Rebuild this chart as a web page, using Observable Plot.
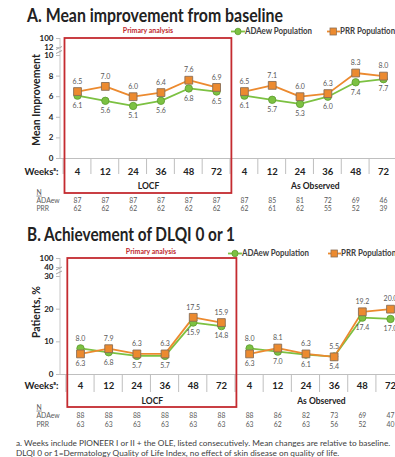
<!DOCTYPE html>
<html><head><meta charset="utf-8">
<script src="https://cdn.jsdelivr.net/npm/d3@7"></script>
<script src="https://cdn.jsdelivr.net/npm/@observablehq/plot@0.6"></script>
<style>
body{margin:0;background:#fff;font-family:Lato,"Open Sans",sans-serif;}
#wrap{position:relative;width:395px;height:457px;overflow:hidden;}
.abs{position:absolute;white-space:nowrap;line-height:1;}
.title{font-weight:bold;font-size:18px;color:#222;}
.prim{font-weight:bold;font-size:7px;color:#C0282D;transform:translate(-50%,-50%);}
.leg{font-weight:bold;font-size:8.5px;color:#404040;display:flex;align-items:center;}
.ytitle{font-weight:bold;font-size:10.5px;color:#222;transform:translate(-50%,-50%) rotate(-90deg);}
.foot{font-size:7.6px;color:#404040;line-height:10px;}
svg.plot{position:absolute;left:0;}
</style></head><body><div id="wrap"></div>
<script>
// ---------- data ----------
const weeks = ["4","12","24","36","48","72"];
const analyses = ["LOCF","As Observed"];
const series = ["ADAew Population","PRR Population"];
// Panel A: mean improvement from baseline
const aLocfADAew = [6.1,5.6,5.1,5.6,6.8,6.5];
const aLocfPRR   = [6.5,7.0,6.0,6.4,7.6,6.9];
const aObsADAew  = [6.1,5.7,5.3,6.0,7.4,7.7];
const aObsPRR    = [6.5,7.1,6.0,6.3,8.3,8.0];
const aN_ADAew = [87,87,87,87,87,87, 87,85,81,72,69,46];
const aN_PRR   = [62,62,62,62,62,62, 62,61,62,55,52,39];
const aYTicks = [0,2,4,6,8,10,12,100];
// Panel B: achievement of DLQI 0 or 1 (%)
const bLocfADAew = [8.0,6.8,5.7,5.7,15.9,14.8];
const bLocfPRR   = [6.3,7.9,6.3,6.3,17.5,15.9];
const bObsADAew  = [8.0,7.0,6.1,5.5,17.4,17.0];
const bObsPRR    = [6.3,8.1,6.3,5.4,19.2,20.0];
const bN_ADAew = [88,88,88,88,88,88, 88,86,82,73,69,47];
const bN_PRR   = [63,63,63,63,63,63, 63,62,63,56,52,40];
const bYTicks = [0,10,20,30,40,100];

const GREEN = "#7CC142", GREEN_D = "#5C9A2E", ORANGE = "#EC8A2F", ORANGE_D = "#8A6E55", RED = "#C42B30", GRAY = "#BFBFBF";

function buildRows(locfA, locfP, obsA, obsP) {
  const rows = [];
  [[locfA, locfP], [obsA, obsP]].forEach(([sa, sp], g) => {
    weeks.forEach((w, k) => {
      const i = g * 6 + k;
      rows.push({i, g: analyses[g], series: series[0], value: sa[k], above: sa[k] > sp[k]});
      rows.push({i, g: analyses[g], series: series[1], value: sp[k], above: sp[k] > sa[k]});
    });
  });
  return rows;
}
function buildTable(nA, nP) {
  return analyses.flatMap((a, g) => weeks.map((w, k) => ({i: g * 6 + k, week: w, nA: nA[g * 6 + k], nP: nP[g * 6 + k]})));
}

function panel(cfg) {
  const {rows, table, yDomain, yRange, yTicks, xRange, breakBetween, height, off} = cfg;
  const zero = () => 0;
  const box = (index, scales) => {
    const x1 = scales.x(-0.45), x2 = scales.x(5.55);
    const y1 = scales.y(yDomain[yDomain.length - 1]), y2 = scales.y(0) + off.box;
    return d3.create("svg:rect").attr("x", x1).attr("y", y1).attr("width", x2 - x1).attr("height", y2 - y1)
      .attr("fill", "none").attr("stroke", RED).attr("stroke-width", 1.8).node();
  };
  const seps = (index, scales) => {
    const g = d3.create("svg:g").attr("stroke", GRAY).attr("stroke-width", 1);
    const y0 = scales.y(0);
    for (let b = -0.5; b <= 10.5; b += 1) {
      g.append("line").attr("x1", scales.x(b)).attr("x2", scales.x(b)).attr("y1", y0).attr("y2", y0 + off.sep);
    }
    return g.node();
  };
  const axisLine = (index, scales) => {
    const g = d3.create("svg:g").attr("stroke", GRAY).attr("fill", "none").attr("stroke-width", 0.9);
    const x = 60;
    g.append("line").attr("x1", x).attr("x2", x).attr("y1", scales.y(0)).attr("y2", scales.y(yDomain[yDomain.length - 1]));
    const yb = (scales.y(breakBetween[0]) + scales.y(breakBetween[1])) / 2;
    g.append("path").attr("d", `M${x-4},${yb-1.5} L${x+2},${yb-4.5} M${x-4},${yb+2.5} L${x+2},${yb-0.5}`).attr("stroke", "#999");
    return g.node();
  };
  const rA = rows.filter(d => d.series === series[0]);
  const rP = rows.filter(d => d.series === series[1]);
  const lbl = {fontSize: 7, fill: "#595959", text: d => d.value.toFixed(1)};
  const tbl = {fontSize: 6.8, fill: "#595959"};
  const svg = Plot.plot({
    width: 395, height,
    marginLeft: 60, marginRight: 0, marginTop: 0, marginBottom: 0,
    style: {fontFamily: "Lato, sans-serif", background: "transparent", overflow: "visible"},
    x: {type: "linear", domain: [-0.5, 11.5], range: xRange, axis: null},
    y: {type: "linear", domain: yDomain, range: yRange, axis: null},
    marks: [
      axisLine,
      Plot.axisY({ticks: yTicks, tickSize: 4, tickPadding: 3, fontSize: 8, fontWeight: "bold", stroke: GRAY, fill: "#222", label: null, tickFormat: d => String(d)}),
      Plot.ruleY([0], {stroke: GRAY, strokeWidth: 1}),
      seps,
      Plot.line(rA, {x: "i", y: "value", z: "g", stroke: GREEN, strokeWidth: 1.8}),
      Plot.line(rP, {x: "i", y: "value", z: "g", stroke: ORANGE, strokeWidth: 1.8}),
      Plot.dot(rA, {x: "i", y: "value", r: 3.7, fill: GREEN, stroke: GREEN_D, strokeWidth: 0.8}),
      Plot.dot(rP, {x: "i", y: "value", symbol: "square", r: 4.4, fill: ORANGE, stroke: ORANGE_D, strokeWidth: 0.9}),
      Plot.text(rows.filter(d => d.above), {x: "i", y: "value", dy: -10, ...lbl}),
      Plot.text(rows.filter(d => !d.above), {x: "i", y: "value", dy: 10, ...lbl}),
      Plot.text(table, {x: "i", y: zero, text: "week", dy: off.week, fontSize: 9.5, fontWeight: "bold", fill: "#222"}),
      Plot.text(analyses, {x: (d, j) => j * 6 + 2.55, y: zero, text: d => d, dy: off.group, fontSize: 8.5, fontWeight: "bold", fill: "#222"}),
      Plot.text(table, {x: "i", y: zero, text: "nA", dy: off.nA, ...tbl}),
      Plot.text(table, {x: "i", y: zero, text: "nP", dy: off.nP, ...tbl}),
      Plot.text(["Weeksᵃ:"], {frameAnchor: "left", y: zero, dx: -2, dy: off.week, textAnchor: "end", fontSize: 9.5, fontWeight: "bold", fill: "#222"}),
      Plot.text(["N"], {frameAnchor: "left", y: zero, dx: -24, dy: off.nHead, textAnchor: "start", ...tbl}),
      Plot.text(["ADAew"], {frameAnchor: "left", y: zero, dx: -24, dy: off.nA, textAnchor: "start", ...tbl}),
      Plot.text(["PRR"], {frameAnchor: "left", y: zero, dx: -24, dy: off.nP, textAnchor: "start", ...tbl}),
      box
    ]
  });
  d3.select(svg).selectAll("text").filter(function() { return this.textContent === "N"; }).attr("text-decoration", "underline");
  svg.classList.add("plot");
  return svg;
}

const wrap = document.getElementById("wrap");
function addDiv(cls, html, style) {
  const d = document.createElement("div");
  d.className = "abs " + cls; d.innerHTML = html; d.setAttribute("style", style);
  wrap.appendChild(d); return d;
}
function fitX(el, target, ratio) {
  const r = ratio || target / el.getBoundingClientRect().width;
  el.style.transformOrigin = "left center";
  el.style.transform = (el.style.transform || "") + ` scaleX(${r})`;
  return r;
}
const swG = `<svg width="15" height="9"><line x1="0" y1="4.5" x2="15" y2="4.5" stroke="${GREEN}" stroke-width="1.8"/><circle cx="7.5" cy="4.5" r="3.3" fill="${GREEN}" stroke="${GREEN_D}" stroke-width="0.8"/></svg>`;
const swO = `<svg width="14" height="9"><line x1="0" y1="4.5" x2="14" y2="4.5" stroke="${ORANGE}" stroke-width="1.8"/><rect x="3.2" y="1" width="7" height="7" fill="${ORANGE}" stroke="${ORANGE_D}" stroke-width="0.8"/></svg>`;

// Panel A
const tA = addDiv("title", "A. Mean improvement from baseline", "left:27px;top:6px;");
fitX(tA, 256);
addDiv("prim", "Primary analysis", "left:148px;top:30px;");
const lA1 = addDiv("leg", swG + "ADAew Population", "left:231px;top:26.5px;");
const rLeg = fitX(lA1, 81);
fitX(addDiv("leg", swO + "PRR Population", "left:327px;top:26.5px;"), 0, rLeg);
addDiv("ytitle", "Mean Improvement", "left:36px;top:100px;");
const svgA = panel({
  rows: buildRows(aLocfADAew, aLocfPRR, aObsADAew, aObsPRR),
  table: buildTable(aN_ADAew, aN_PRR),
  yDomain: [0, 10, 12, 100], yRange: [124, 21, 13, 4], yTicks: aYTicks,
  xRange: [63.1, 396.9], breakBetween: [10, 12], height: 182,
  off: {box: 35, sep: 16, week: 13, group: 28, nHead: 34, nA: 42, nP: 50.5}
});
svgA.style.top = "34px";
wrap.appendChild(svgA);

// Panel B
const tB = addDiv("title", "B. Achievement of DLQI 0 or 1", "left:27px;top:225px;");
fitX(tB, 208);
addDiv("prim", "Primary analysis", "left:151px;top:251px;");
fitX(addDiv("leg", swG + "ADAew Population", "left:228px;top:248.5px;"), 0, rLeg);
fitX(addDiv("leg", swO + "PRR Population", "left:328px;top:248.5px;"), 0, rLeg);
addDiv("ytitle", "Patients, %", "left:36px;top:312px;");
const svgB = panel({
  rows: buildRows(bLocfADAew, bLocfPRR, bObsADAew, bObsPRR),
  table: buildTable(bN_ADAew, bN_PRR),
  yDomain: [0, 30, 40, 100], yRange: [119, 21, 12, 3], yTicks: bYTicks,
  xRange: [65.9, 404.1], breakBetween: [30, 40], height: 175,
  off: {box: 33, sep: 18, week: 11, group: 27, nHead: 33, nA: 41, nP: 50}
});
svgB.style.top = "255px";
wrap.appendChild(svgB);

const foot = addDiv("foot", "a. Weeks include PIONEER I or II + the OLE, listed consecutively. Mean changes are relative to baseline.<br>DLQI 0 or 1=Dermatology Quality of Life Index, no effect of skin disease on quality of life.", "left:16px;top:438px;");
foot.style.fontSize = (7.6 * 374 / foot.getBoundingClientRect().width).toFixed(2) + "px";
</script></body></html>
